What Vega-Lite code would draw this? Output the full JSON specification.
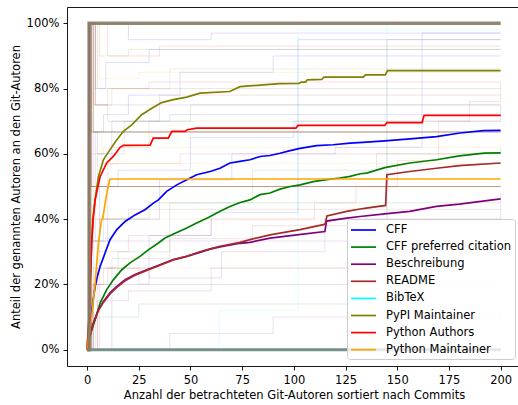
{
  "$schema": "https://vega.github.io/schema/vega-lite/v6.json",
  "width": 451,
  "height": 359,
  "autosize": {"type": "none"},
  "padding": {"left": 67, "top": 7, "right": 0, "bottom": 39},
  "background": "white",
  "config": {
    "view": {"stroke": null},
    "font": "DejaVu Sans",
    "axis": {"labelFont": "DejaVu Sans", "labelFontSize": 11.5, "labelColor": "black", "titleFont": "DejaVu Sans", "titleFontSize": 11.5, "titleFontWeight": "normal", "titleColor": "black", "tickColor": "black", "domainColor": "black", "tickSize": 4, "tickWidth": 0.9, "domainWidth": 0.9, "grid": false}
  },
  "datasets": {
    "bg": [
      {"id":"f1","cat":"CFF","x":0,"y":0},{"id":"f1","cat":"CFF","x":1,"y":100},{"id":"f1","cat":"CFF","x":4,"y":80},{"id":"f1","cat":"CFF","x":9,"y":88},{"id":"f1","cat":"CFF","x":30,"y":92},{"id":"f1","cat":"CFF","x":200,"y":92},
      {"id":"f2","cat":"CFF","x":0,"y":0},{"id":"f2","cat":"CFF","x":1,"y":50},{"id":"f2","cat":"CFF","x":3,"y":66.7},{"id":"f2","cat":"CFF","x":8,"y":72},{"id":"f2","cat":"CFF","x":20,"y":78},{"id":"f2","cat":"CFF","x":45,"y":85},{"id":"f2","cat":"CFF","x":90,"y":90},{"id":"f2","cat":"CFF","x":200,"y":90},
      {"id":"f3","cat":"CFF","x":0,"y":0},{"id":"f3","cat":"CFF","x":12,"y":20},{"id":"f3","cat":"CFF","x":30,"y":35},{"id":"f3","cat":"CFF","x":60,"y":42},{"id":"f3","cat":"CFF","x":102,"y":95},{"id":"f3","cat":"CFF","x":200,"y":95},
      {"id":"f4","cat":"CFF","x":0,"y":0},{"id":"f4","cat":"CFF","x":2,"y":33.3},{"id":"f4","cat":"CFF","x":10,"y":40},{"id":"f4","cat":"CFF","x":35,"y":52},{"id":"f4","cat":"CFF","x":70,"y":60},{"id":"f4","cat":"CFF","x":120,"y":62},{"id":"f4","cat":"CFF","x":162,"y":97},{"id":"f4","cat":"CFF","x":200,"y":97},
      {"id":"f5","cat":"CFF","x":0,"y":0},{"id":"f5","cat":"CFF","x":1,"y":100},{"id":"f5","cat":"CFF","x":2,"y":50},{"id":"f5","cat":"CFF","x":200,"y":50},
      {"id":"f6","cat":"CFF","x":0,"y":0},{"id":"f6","cat":"CFF","x":1,"y":100},{"id":"f6","cat":"CFF","x":20,"y":95},{"id":"f6","cat":"CFF","x":60,"y":97},{"id":"f6","cat":"CFF","x":200,"y":97},
      {"id":"f7","cat":"CFF","x":0,"y":0},{"id":"f7","cat":"CFF","x":1,"y":100},{"id":"f7","cat":"CFF","x":2,"y":66.7},{"id":"f7","cat":"CFF","x":5,"y":60},{"id":"f7","cat":"CFF","x":12,"y":70},{"id":"f7","cat":"CFF","x":40,"y":72},{"id":"f7","cat":"CFF","x":200,"y":72},
      {"id":"f8","cat":"CFF","x":0,"y":0},{"id":"f8","cat":"CFF","x":3,"y":33.3},{"id":"f8","cat":"CFF","x":6,"y":50},{"id":"f8","cat":"CFF","x":15,"y":55},{"id":"f8","cat":"CFF","x":50,"y":65},{"id":"f8","cat":"CFF","x":100,"y":70},{"id":"f8","cat":"CFF","x":200,"y":75},
      {"id":"g1","cat":"CFF preferred citation","x":0,"y":0},{"id":"g1","cat":"CFF preferred citation","x":1,"y":100},{"id":"g1","cat":"CFF preferred citation","x":3,"y":66.7},{"id":"g1","cat":"CFF preferred citation","x":200,"y":66.7},
      {"id":"g2","cat":"CFF preferred citation","x":0,"y":0},{"id":"g2","cat":"CFF preferred citation","x":2,"y":25},{"id":"g2","cat":"CFF preferred citation","x":15,"y":30},{"id":"g2","cat":"CFF preferred citation","x":40,"y":45},{"id":"g2","cat":"CFF preferred citation","x":80,"y":55},{"id":"g2","cat":"CFF preferred citation","x":140,"y":60},{"id":"g2","cat":"CFF preferred citation","x":200,"y":62},
      {"id":"g3","cat":"CFF preferred citation","x":0,"y":0},{"id":"g3","cat":"CFF preferred citation","x":1,"y":50},{"id":"g3","cat":"CFF preferred citation","x":5,"y":60},{"id":"g3","cat":"CFF preferred citation","x":18,"y":70},{"id":"g3","cat":"CFF preferred citation","x":50,"y":75},{"id":"g3","cat":"CFF preferred citation","x":200,"y":75},
      {"id":"g4","cat":"CFF preferred citation","x":0,"y":0},{"id":"g4","cat":"CFF preferred citation","x":4,"y":10},{"id":"g4","cat":"CFF preferred citation","x":25,"y":14},{"id":"g4","cat":"CFF preferred citation","x":200,"y":14},
      {"id":"g5","cat":"CFF preferred citation","x":0,"y":0},{"id":"g5","cat":"CFF preferred citation","x":1,"y":100},{"id":"g5","cat":"CFF preferred citation","x":2,"y":50},{"id":"g5","cat":"CFF preferred citation","x":3,"y":33.3},{"id":"g5","cat":"CFF preferred citation","x":8,"y":40},{"id":"g5","cat":"CFF preferred citation","x":30,"y":45},{"id":"g5","cat":"CFF preferred citation","x":200,"y":45},
      {"id":"g6","cat":"CFF preferred citation","x":0,"y":0},{"id":"g6","cat":"CFF preferred citation","x":2,"y":50},{"id":"g6","cat":"CFF preferred citation","x":200,"y":50},
      {"id":"p1","cat":"Beschreibung","x":0,"y":0},{"id":"p1","cat":"Beschreibung","x":1,"y":100},{"id":"p1","cat":"Beschreibung","x":2,"y":50},{"id":"p1","cat":"Beschreibung","x":4,"y":33.3},{"id":"p1","cat":"Beschreibung","x":200,"y":33.3},
      {"id":"p2","cat":"Beschreibung","x":0,"y":0},{"id":"p2","cat":"Beschreibung","x":3,"y":20},{"id":"p2","cat":"Beschreibung","x":10,"y":25},{"id":"p2","cat":"Beschreibung","x":30,"y":22},{"id":"p2","cat":"Beschreibung","x":65,"y":30},{"id":"p2","cat":"Beschreibung","x":115,"y":40},{"id":"p2","cat":"Beschreibung","x":200,"y":48},
      {"id":"p3","cat":"Beschreibung","x":0,"y":0},{"id":"p3","cat":"Beschreibung","x":40,"y":5},{"id":"p3","cat":"Beschreibung","x":90,"y":10},{"id":"p3","cat":"Beschreibung","x":200,"y":12},
      {"id":"p4","cat":"Beschreibung","x":0,"y":0},{"id":"p4","cat":"Beschreibung","x":1,"y":100},{"id":"p4","cat":"Beschreibung","x":3,"y":75},{"id":"p4","cat":"Beschreibung","x":200,"y":75},
      {"id":"p5","cat":"Beschreibung","x":0,"y":0},{"id":"p5","cat":"Beschreibung","x":1,"y":100},{"id":"p5","cat":"Beschreibung","x":2,"y":50},{"id":"p5","cat":"Beschreibung","x":200,"y":50},
      {"id":"p6","cat":"Beschreibung","x":0,"y":0},{"id":"p6","cat":"Beschreibung","x":5,"y":15},{"id":"p6","cat":"Beschreibung","x":20,"y":18},{"id":"p6","cat":"Beschreibung","x":60,"y":25},{"id":"p6","cat":"Beschreibung","x":150,"y":30},{"id":"p6","cat":"Beschreibung","x":200,"y":33},
      {"id":"r1","cat":"README","x":0,"y":0},{"id":"r1","cat":"README","x":1,"y":100},{"id":"r1","cat":"README","x":2,"y":66.7},{"id":"r1","cat":"README","x":200,"y":66.7},
      {"id":"r2","cat":"README","x":0,"y":0},{"id":"r2","cat":"README","x":2,"y":20},{"id":"r2","cat":"README","x":12,"y":28},{"id":"r2","cat":"README","x":40,"y":34},{"id":"r2","cat":"README","x":80,"y":38},{"id":"r2","cat":"README","x":145,"y":95},{"id":"r2","cat":"README","x":200,"y":95},
      {"id":"r3","cat":"README","x":0,"y":0},{"id":"r3","cat":"README","x":1,"y":100},{"id":"r3","cat":"README","x":5,"y":80},{"id":"r3","cat":"README","x":200,"y":80},
      {"id":"r4","cat":"README","x":0,"y":0},{"id":"r4","cat":"README","x":6,"y":40},{"id":"r4","cat":"README","x":20,"y":43},{"id":"r4","cat":"README","x":200,"y":43},
      {"id":"r5","cat":"README","x":0,"y":0},{"id":"r5","cat":"README","x":1,"y":100},{"id":"r5","cat":"README","x":4,"y":75},{"id":"r5","cat":"README","x":10,"y":70},{"id":"r5","cat":"README","x":35,"y":78},{"id":"r5","cat":"README","x":200,"y":78},
      {"id":"r6","cat":"README","x":0,"y":0},{"id":"r6","cat":"README","x":3,"y":20},{"id":"r6","cat":"README","x":8,"y":25},{"id":"r6","cat":"README","x":25,"y":20},{"id":"r6","cat":"README","x":200,"y":20},
      {"id":"c1","cat":"BibTeX","x":0,"y":0},{"id":"c1","cat":"BibTeX","x":1,"y":100},{"id":"c1","cat":"BibTeX","x":200,"y":100},
      {"id":"c2","cat":"BibTeX","x":0,"y":0},{"id":"c2","cat":"BibTeX","x":64,"y":12},{"id":"c2","cat":"BibTeX","x":102,"y":98},{"id":"c2","cat":"BibTeX","x":200,"y":98},
      {"id":"c3","cat":"BibTeX","x":0,"y":0},{"id":"c3","cat":"BibTeX","x":145,"y":100},{"id":"c3","cat":"BibTeX","x":200,"y":100},
      {"id":"c4","cat":"BibTeX","x":0,"y":0},{"id":"c4","cat":"BibTeX","x":1,"y":100},{"id":"c4","cat":"BibTeX","x":3,"y":66.7},{"id":"c4","cat":"BibTeX","x":200,"y":66.7},
      {"id":"o1","cat":"PyPI Maintainer","x":0,"y":0},{"id":"o1","cat":"PyPI Maintainer","x":1,"y":100},{"id":"o1","cat":"PyPI Maintainer","x":200,"y":100},
      {"id":"o2","cat":"PyPI Maintainer","x":0,"y":0},{"id":"o2","cat":"PyPI Maintainer","x":1,"y":100},{"id":"o2","cat":"PyPI Maintainer","x":2,"y":50},{"id":"o2","cat":"PyPI Maintainer","x":200,"y":50},
      {"id":"o3","cat":"PyPI Maintainer","x":0,"y":0},{"id":"o3","cat":"PyPI Maintainer","x":1,"y":100},{"id":"o3","cat":"PyPI Maintainer","x":4,"y":75},{"id":"o3","cat":"PyPI Maintainer","x":12,"y":80},{"id":"o3","cat":"PyPI Maintainer","x":40,"y":86},{"id":"o3","cat":"PyPI Maintainer","x":200,"y":86},
      {"id":"o4","cat":"PyPI Maintainer","x":0,"y":0},{"id":"o4","cat":"PyPI Maintainer","x":2,"y":60},{"id":"o4","cat":"PyPI Maintainer","x":8,"y":62},{"id":"o4","cat":"PyPI Maintainer","x":30,"y":70},{"id":"o4","cat":"PyPI Maintainer","x":200,"y":70},
      {"id":"o5","cat":"PyPI Maintainer","x":0,"y":0},{"id":"o5","cat":"PyPI Maintainer","x":1,"y":100},{"id":"o5","cat":"PyPI Maintainer","x":3,"y":66.7},{"id":"o5","cat":"PyPI Maintainer","x":200,"y":66.7},
      {"id":"o6","cat":"PyPI Maintainer","x":0,"y":0},{"id":"o6","cat":"PyPI Maintainer","x":1,"y":100},{"id":"o6","cat":"PyPI Maintainer","x":6,"y":90},{"id":"o6","cat":"PyPI Maintainer","x":20,"y":92},{"id":"o6","cat":"PyPI Maintainer","x":200,"y":92},
      {"id":"a1","cat":"Python Authors","x":0,"y":0},{"id":"a1","cat":"Python Authors","x":1,"y":100},{"id":"a1","cat":"Python Authors","x":3,"y":66.7},{"id":"a1","cat":"Python Authors","x":200,"y":66.7},
      {"id":"a2","cat":"Python Authors","x":0,"y":0},{"id":"a2","cat":"Python Authors","x":5,"y":30},{"id":"a2","cat":"Python Authors","x":20,"y":35},{"id":"a2","cat":"Python Authors","x":60,"y":40},{"id":"a2","cat":"Python Authors","x":110,"y":45},{"id":"a2","cat":"Python Authors","x":130,"y":50},{"id":"a2","cat":"Python Authors","x":150,"y":58},{"id":"a2","cat":"Python Authors","x":170,"y":70},{"id":"a2","cat":"Python Authors","x":185,"y":76},{"id":"a2","cat":"Python Authors","x":200,"y":82},
      {"id":"a3","cat":"Python Authors","x":0,"y":0},{"id":"a3","cat":"Python Authors","x":1,"y":100},{"id":"a3","cat":"Python Authors","x":2,"y":50},{"id":"a3","cat":"Python Authors","x":200,"y":50},
      {"id":"a4","cat":"Python Authors","x":0,"y":0},{"id":"a4","cat":"Python Authors","x":2,"y":40},{"id":"a4","cat":"Python Authors","x":10,"y":57},{"id":"a4","cat":"Python Authors","x":45,"y":60},{"id":"a4","cat":"Python Authors","x":200,"y":60},
      {"id":"a5","cat":"Python Authors","x":0,"y":0},{"id":"a5","cat":"Python Authors","x":1,"y":100},{"id":"a5","cat":"Python Authors","x":10,"y":90},{"id":"a5","cat":"Python Authors","x":35,"y":93},{"id":"a5","cat":"Python Authors","x":200,"y":93},
      {"id":"a6","cat":"Python Authors","x":0,"y":0},{"id":"a6","cat":"Python Authors","x":1,"y":100},{"id":"a6","cat":"Python Authors","x":4,"y":75},{"id":"a6","cat":"Python Authors","x":10,"y":80},{"id":"a6","cat":"Python Authors","x":30,"y":82},{"id":"a6","cat":"Python Authors","x":200,"y":82},
      {"id":"a7","cat":"Python Authors","x":0,"y":0},{"id":"a7","cat":"Python Authors","x":2,"y":50},{"id":"a7","cat":"Python Authors","x":4,"y":66.7},{"id":"a7","cat":"Python Authors","x":200,"y":66.7},
      {"id":"m1","cat":"Python Maintainer","x":0,"y":0},{"id":"m1","cat":"Python Maintainer","x":1,"y":100},{"id":"m1","cat":"Python Maintainer","x":2,"y":50},{"id":"m1","cat":"Python Maintainer","x":200,"y":50},
      {"id":"m2","cat":"Python Maintainer","x":0,"y":0},{"id":"m2","cat":"Python Maintainer","x":1,"y":100},{"id":"m2","cat":"Python Maintainer","x":200,"y":100},
      {"id":"m3","cat":"Python Maintainer","x":0,"y":0},{"id":"m3","cat":"Python Maintainer","x":3,"y":25},{"id":"m3","cat":"Python Maintainer","x":200,"y":25},
      {"id":"m4","cat":"Python Maintainer","x":0,"y":0},{"id":"m4","cat":"Python Maintainer","x":1,"y":100},{"id":"m4","cat":"Python Maintainer","x":6,"y":83},{"id":"m4","cat":"Python Maintainer","x":25,"y":85},{"id":"m4","cat":"Python Maintainer","x":200,"y":85},
      {"id":"m5","cat":"Python Maintainer","x":0,"y":0},{"id":"m5","cat":"Python Maintainer","x":2,"y":50},{"id":"m5","cat":"Python Maintainer","x":6,"y":57},{"id":"m5","cat":"Python Maintainer","x":15,"y":62},{"id":"m5","cat":"Python Maintainer","x":200,"y":62},
      {"id":"m6","cat":"Python Maintainer","x":0,"y":0},{"id":"m6","cat":"Python Maintainer","x":1,"y":100},{"id":"m6","cat":"Python Maintainer","x":3,"y":66.7},{"id":"m6","cat":"Python Maintainer","x":7,"y":57},{"id":"m6","cat":"Python Maintainer","x":200,"y":57},
      {"id":"m7","cat":"Python Maintainer","x":0,"y":0},{"id":"m7","cat":"Python Maintainer","x":2,"y":40},{"id":"m7","cat":"Python Maintainer","x":200,"y":40}
    ],
    "means": [
      {"cat":"CFF","x":0,"y":0},{"cat":"CFF","x":0.6,"y":1},{"cat":"CFF","x":1,"y":4},{"cat":"CFF","x":2,"y":10},{"cat":"CFF","x":3,"y":15.5},{"cat":"CFF","x":4,"y":19.6},{"cat":"CFF","x":5,"y":22.5},{"cat":"CFF","x":6.3,"y":25.5},{"cat":"CFF","x":8.7,"y":29.6},{"cat":"CFF","x":11.1,"y":33.7},{"cat":"CFF","x":14.4,"y":36.8},{"cat":"CFF","x":18.4,"y":39.3},{"cat":"CFF","x":23.2,"y":41.3},{"cat":"CFF","x":28,"y":42.9},{"cat":"CFF","x":32.1,"y":44.9},{"cat":"CFF","x":34.5,"y":45.9},{"cat":"CFF","x":38.5,"y":48.5},{"cat":"CFF","x":43.4,"y":50.5},{"cat":"CFF","x":48.2,"y":52.1},{"cat":"CFF","x":53,"y":53.6},{"cat":"CFF","x":59.5,"y":54.6},{"cat":"CFF","x":64.3,"y":55.6},{"cat":"CFF","x":69.1,"y":57.2},{"cat":"CFF","x":74,"y":57.7},{"cat":"CFF","x":78.8,"y":58.2},{"cat":"CFF","x":83.7,"y":59.2},{"cat":"CFF","x":88.5,"y":59.5},{"cat":"CFF","x":93.3,"y":60.2},{"cat":"CFF","x":98.2,"y":61},{"cat":"CFF","x":103,"y":61.7},{"cat":"CFF","x":111,"y":62.5},{"cat":"CFF","x":119,"y":62.8},{"cat":"CFF","x":127.2,"y":63.3},{"cat":"CFF","x":135.2,"y":63.6},{"cat":"CFF","x":144,"y":64},{"cat":"CFF","x":156.2,"y":64.6},{"cat":"CFF","x":169,"y":65.3},{"cat":"CFF","x":180.4,"y":66.4},{"cat":"CFF","x":191.6,"y":67.1},{"cat":"CFF","x":200,"y":67.2},
      {"cat":"CFF preferred citation","x":0,"y":0},{"cat":"CFF preferred citation","x":0.6,"y":2},{"cat":"CFF preferred citation","x":2,"y":5.5},{"cat":"CFF preferred citation","x":3.9,"y":9.2},{"cat":"CFF preferred citation","x":6.3,"y":14.3},{"cat":"CFF preferred citation","x":9.5,"y":18.4},{"cat":"CFF preferred citation","x":12.7,"y":21.4},{"cat":"CFF preferred citation","x":16.8,"y":24.5},{"cat":"CFF preferred citation","x":20.8,"y":26.6},{"cat":"CFF preferred citation","x":25.6,"y":28.6},{"cat":"CFF preferred citation","x":29.6,"y":30.6},{"cat":"CFF preferred citation","x":34.5,"y":32.7},{"cat":"CFF preferred citation","x":37.7,"y":34.2},{"cat":"CFF preferred citation","x":42.6,"y":35.7},{"cat":"CFF preferred citation","x":48.2,"y":37.3},{"cat":"CFF preferred citation","x":53,"y":38.8},{"cat":"CFF preferred citation","x":58.7,"y":40.5},{"cat":"CFF preferred citation","x":64.3,"y":42.4},{"cat":"CFF preferred citation","x":69.1,"y":43.9},{"cat":"CFF preferred citation","x":74,"y":45.1},{"cat":"CFF preferred citation","x":78.8,"y":45.9},{"cat":"CFF preferred citation","x":83.7,"y":47.5},{"cat":"CFF preferred citation","x":88.5,"y":48},{"cat":"CFF preferred citation","x":93.3,"y":49.2},{"cat":"CFF preferred citation","x":98.2,"y":50},{"cat":"CFF preferred citation","x":103,"y":50.5},{"cat":"CFF preferred citation","x":109.4,"y":51.5},{"cat":"CFF preferred citation","x":115.9,"y":52.1},{"cat":"CFF preferred citation","x":122.3,"y":52.6},{"cat":"CFF preferred citation","x":127.2,"y":53.1},{"cat":"CFF preferred citation","x":132,"y":53.9},{"cat":"CFF preferred citation","x":135.2,"y":54.1},{"cat":"CFF preferred citation","x":144,"y":55.8},{"cat":"CFF preferred citation","x":156,"y":57.2},{"cat":"CFF preferred citation","x":169,"y":58.2},{"cat":"CFF preferred citation","x":180,"y":59.4},{"cat":"CFF preferred citation","x":192,"y":60.2},{"cat":"CFF preferred citation","x":200,"y":60.3},
      {"cat":"Beschreibung","x":0,"y":0},{"cat":"Beschreibung","x":0.6,"y":3.1},{"cat":"Beschreibung","x":3,"y":8.2},{"cat":"Beschreibung","x":5.5,"y":12.3},{"cat":"Beschreibung","x":7.9,"y":14.8},{"cat":"Beschreibung","x":11.1,"y":17.4},{"cat":"Beschreibung","x":14.4,"y":19.4},{"cat":"Beschreibung","x":18.4,"y":21.4},{"cat":"Beschreibung","x":23.2,"y":23},{"cat":"Beschreibung","x":28.9,"y":24.5},{"cat":"Beschreibung","x":35.3,"y":26},{"cat":"Beschreibung","x":41.7,"y":27.6},{"cat":"Beschreibung","x":48.2,"y":28.6},{"cat":"Beschreibung","x":54.6,"y":29.8},{"cat":"Beschreibung","x":59.5,"y":30.8},{"cat":"Beschreibung","x":64.3,"y":31.5},{"cat":"Beschreibung","x":74,"y":32.6},{"cat":"Beschreibung","x":78.8,"y":32.9},{"cat":"Beschreibung","x":88.5,"y":34.2},{"cat":"Beschreibung","x":101.4,"y":35.2},{"cat":"Beschreibung","x":115,"y":36.2},{"cat":"Beschreibung","x":115.8,"y":39.4},{"cat":"Beschreibung","x":125.6,"y":40.3},{"cat":"Beschreibung","x":132,"y":40.8},{"cat":"Beschreibung","x":144,"y":41.6},{"cat":"Beschreibung","x":156,"y":42.4},{"cat":"Beschreibung","x":169,"y":43.9},{"cat":"Beschreibung","x":180,"y":44.6},{"cat":"Beschreibung","x":200,"y":46.2},
      {"cat":"README","x":0,"y":0},{"cat":"README","x":0.6,"y":2.8},{"cat":"README","x":3,"y":7.8},{"cat":"README","x":5.5,"y":12},{"cat":"README","x":7.9,"y":14.5},{"cat":"README","x":11.1,"y":17.1},{"cat":"README","x":14.4,"y":19.1},{"cat":"README","x":18.4,"y":21.1},{"cat":"README","x":23.2,"y":22.8},{"cat":"README","x":28.9,"y":24.3},{"cat":"README","x":35.3,"y":25.9},{"cat":"README","x":41.7,"y":27.5},{"cat":"README","x":48.2,"y":28.6},{"cat":"README","x":54.6,"y":30},{"cat":"README","x":59.5,"y":30.9},{"cat":"README","x":64.3,"y":31.7},{"cat":"README","x":74,"y":32.9},{"cat":"README","x":78.8,"y":33.7},{"cat":"README","x":88.5,"y":35.2},{"cat":"README","x":103,"y":36.8},{"cat":"README","x":114.3,"y":38.3},{"cat":"README","x":115.2,"y":38.6},{"cat":"README","x":116,"y":41},{"cat":"README","x":125.6,"y":42.4},{"cat":"README","x":132,"y":43.1},{"cat":"README","x":135,"y":43.4},{"cat":"README","x":144.4,"y":44.2},{"cat":"README","x":145,"y":53.6},{"cat":"README","x":156,"y":54.6},{"cat":"README","x":169,"y":55.6},{"cat":"README","x":180,"y":56.4},{"cat":"README","x":200,"y":57.2},
      {"cat":"BibTeX","x":0,"y":0},{"cat":"BibTeX","x":200,"y":0},
      {"cat":"PyPI Maintainer","x":0,"y":0},{"cat":"PyPI Maintainer","x":1,"y":10.5},{"cat":"PyPI Maintainer","x":1.5,"y":20.5},{"cat":"PyPI Maintainer","x":2.3,"y":33.5},{"cat":"PyPI Maintainer","x":3,"y":40.5},{"cat":"PyPI Maintainer","x":3.9,"y":46},{"cat":"PyPI Maintainer","x":4.7,"y":49.5},{"cat":"PyPI Maintainer","x":5.5,"y":53},{"cat":"PyPI Maintainer","x":7.9,"y":58.2},{"cat":"PyPI Maintainer","x":11.1,"y":61.3},{"cat":"PyPI Maintainer","x":14.4,"y":64.3},{"cat":"PyPI Maintainer","x":17.6,"y":66.9},{"cat":"PyPI Maintainer","x":21.6,"y":68.9},{"cat":"PyPI Maintainer","x":26.4,"y":72},{"cat":"PyPI Maintainer","x":31.3,"y":74},{"cat":"PyPI Maintainer","x":36.1,"y":75.7},{"cat":"PyPI Maintainer","x":41.7,"y":76.6},{"cat":"PyPI Maintainer","x":48.2,"y":77.4},{"cat":"PyPI Maintainer","x":54.6,"y":78.6},{"cat":"PyPI Maintainer","x":69,"y":79.1},{"cat":"PyPI Maintainer","x":74,"y":80.6},{"cat":"PyPI Maintainer","x":93,"y":81.5},{"cat":"PyPI Maintainer","x":102.5,"y":81.6},{"cat":"PyPI Maintainer","x":103.5,"y":82},{"cat":"PyPI Maintainer","x":105.7,"y":82},{"cat":"PyPI Maintainer","x":106.5,"y":82.7},{"cat":"PyPI Maintainer","x":113.5,"y":82.8},{"cat":"PyPI Maintainer","x":114.5,"y":83.5},{"cat":"PyPI Maintainer","x":133.6,"y":83.5},{"cat":"PyPI Maintainer","x":134.6,"y":84.2},{"cat":"PyPI Maintainer","x":144.2,"y":84.2},{"cat":"PyPI Maintainer","x":145.3,"y":85.5},{"cat":"PyPI Maintainer","x":200,"y":85.5},
      {"cat":"Python Authors","x":0,"y":0},{"cat":"Python Authors","x":1,"y":10.2},{"cat":"Python Authors","x":1.5,"y":20.4},{"cat":"Python Authors","x":2.3,"y":33.7},{"cat":"Python Authors","x":3,"y":40.8},{"cat":"Python Authors","x":3.9,"y":45.9},{"cat":"Python Authors","x":6.3,"y":53},{"cat":"Python Authors","x":9.5,"y":57.2},{"cat":"Python Authors","x":12.7,"y":59.2},{"cat":"Python Authors","x":16,"y":62},{"cat":"Python Authors","x":17.6,"y":62.6},{"cat":"Python Authors","x":30.5,"y":62.7},{"cat":"Python Authors","x":32,"y":64.8},{"cat":"Python Authors","x":39.3,"y":64.8},{"cat":"Python Authors","x":41,"y":66.9},{"cat":"Python Authors","x":47.4,"y":66.9},{"cat":"Python Authors","x":48.5,"y":67.4},{"cat":"Python Authors","x":53,"y":67.9},{"cat":"Python Authors","x":101,"y":67.9},{"cat":"Python Authors","x":102,"y":68.7},{"cat":"Python Authors","x":144,"y":68.7},{"cat":"Python Authors","x":145,"y":69.6},{"cat":"Python Authors","x":162,"y":69.6},{"cat":"Python Authors","x":163,"y":71.8},{"cat":"Python Authors","x":200,"y":71.8},
      {"cat":"Python Maintainer","x":0,"y":0},{"cat":"Python Maintainer","x":0.2,"y":1},{"cat":"Python Maintainer","x":2.3,"y":10.2},{"cat":"Python Maintainer","x":3.9,"y":20.4},{"cat":"Python Maintainer","x":5.5,"y":32.7},{"cat":"Python Maintainer","x":7,"y":39.8},{"cat":"Python Maintainer","x":7.6,"y":40.2},{"cat":"Python Maintainer","x":9,"y":46},{"cat":"Python Maintainer","x":10.5,"y":51},{"cat":"Python Maintainer","x":11.1,"y":52.3},{"cat":"Python Maintainer","x":200,"y":52.3}
    ],
    "dense": [
      {"id":"all","x":0,"y":0},{"id":"all","x":1,"y":100},{"id":"all","x":200,"y":100},
      {"id":"none","x":0,"y":0},{"id":"none","x":200,"y":0}
    ]
  },
  "resolve": {"axis": {"x": "independent"}},
  "layer": [
    {
      "data": {"name": "bg"},
      "mark": {"type": "line", "interpolate": "step-after", "strokeWidth": 1, "opacity": 0.13},
      "encoding": {
        "x": {"field": "x", "type": "quantitative", "scale": {"domain": [-9.7, 208.4], "nice": false, "zero": false},
              "axis": {"values": [0, 25, 50, 75, 100, 125, 150, 175, 200], "title": "Anzahl der betrachteten Git-Autoren sortiert nach Commits", "titleX": 227, "labelPadding": 4, "titlePadding": 4}},
        "y": {"field": "y", "type": "quantitative", "scale": {"domain": [-5, 105], "nice": false, "zero": false},
              "axis": {"values": [0, 20, 40, 60, 80, 100], "labelExpr": "datum.value + '%'", "title": "Anteil der genannten Autoren an den Git-Autoren", "labelPadding": 4, "titlePadding": 5}},
        "color": {"field": "cat", "type": "nominal",
                  "scale": {"domain": ["CFF", "CFF preferred citation", "Beschreibung", "README", "BibTeX", "PyPI Maintainer", "Python Authors", "Python Maintainer"],
                            "range": ["#0000ff", "#008000", "#800080", "#a52a2a", "#00ffff", "#808000", "#ff0000", "#ffa500"]},
                  "legend": {"title": null, "orient": "none", "legendX": 280, "legendY": 212, "padding": 3, "symbolType": "M-1,0H2.57", "symbolSize": 196, "symbolStrokeWidth": 1.7, "symbolOpacity": 1, "labelFont": "DejaVu Sans", "labelFontSize": 11.5, "labelColor": "black", "labelOffset": 20, "labelLimit": 0, "rowPadding": 3.1, "fillColor": "rgba(255,255,255,0.8)", "strokeColor": "#cccccc", "cornerRadius": 3}},
        "detail": {"field": "id"}
      }
    },
    {
      "data": {"name": "means"},
      "mark": {"type": "line", "strokeWidth": 1.7},
      "encoding": {
        "x": {"field": "x", "type": "quantitative", "axis": null},
        "y": {"field": "y", "type": "quantitative"},
        "color": {"field": "cat", "type": "nominal"}
      }
    },
    {
      "data": {"name": "dense"},
      "transform": [{"filter": "datum.id === 'none'"}],
      "mark": {"type": "line", "strokeWidth": 3, "color": "#7c8782", "opacity": 0.92},
      "encoding": {
        "x": {"field": "x", "type": "quantitative", "axis": null},
        "y": {"field": "y", "type": "quantitative"}
      }
    },
    {
      "data": {"name": "dense"},
      "transform": [{"filter": "datum.id === 'all'"}],
      "mark": {"type": "line", "interpolate": "step-after", "strokeWidth": 3.5, "color": "#867a69", "opacity": 0.9},
      "encoding": {
        "x": {"field": "x", "type": "quantitative", "axis": {"orient": "top", "labels": false, "ticks": false, "title": null, "domain": true}},
        "y": {"field": "y", "type": "quantitative"}
      }
    }
  ]
}
